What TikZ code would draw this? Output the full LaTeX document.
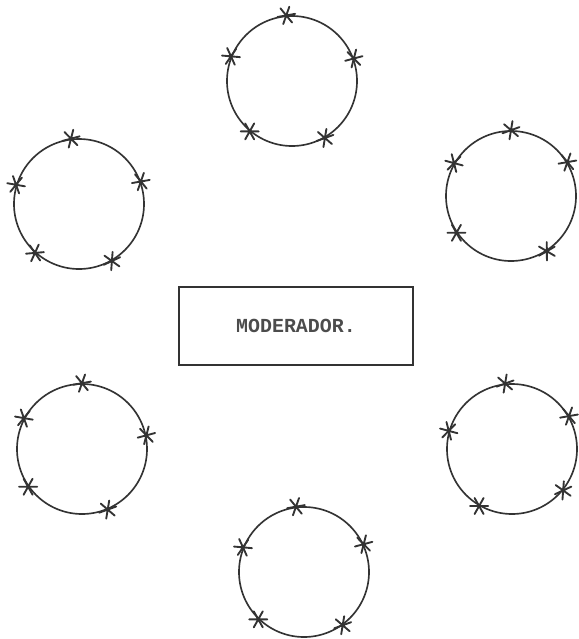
\documentclass[tikz,border=0pt]{standalone}
\usepackage{fontspec}
\newfontfamily\typewriter{Liberation Mono}
\usetikzlibrary{positioning}
\tikzset{
  mesa/.style={
    draw=black!80, circle, line width=1.4pt,
    minimum size=3.9cm, inner sep=0pt
  },
  moderador/.style={
    draw=black!80, rectangle, line width=1.5pt,
    minimum width=7.02cm, minimum height=2.34cm,
    font=\typewriter\bfseries\fontsize{17}{20}\selectfont, text=black!70
  },
  seat/.pic={
    \draw[black!80, line width=1.6pt, line cap=round]
      (-9,0) -- (9,0) (-4.5,-8) -- (4.5,8) (-4.5,8) -- (4.5,-8);
  }
}
\begin{document}
\begin{tikzpicture}[x=0.03cm, y=-0.03cm]
    \useasboundingbox (0,0) rectangle (578,639);
    \node[moderador] (mod) at (296,326) {MODERADOR.};
    % mesas
    \node[mesa] (m1) at (292,81) {};
    \node[mesa] (m2) at (79,204) {};
    \node[mesa] (m3) at (511,196) {};
    \node[mesa] (m4) at (82,449) {};
    \node[mesa] (m5) at (512,449) {};
    \node[mesa] (m6) at (304,572) {};
    % participantes
    \foreach \a/\r in {95/10, 158/-5, 20/15, 230/0, 300/20}
      \pic[rotate=\r] at (m1.\a) {seat};
    \foreach \a/\r in {97/15, 163/-10, 20/10, 228/5, 300/25}
      \pic[rotate=\r] at (m2.\a) {seat};
    \foreach \a/\r in {90/20, 150/-15, 31/10, 214/0, 303/30}
      \pic[rotate=\r] at (m3.\a) {seat};
    \foreach \a/\r in {90/10, 152/-10, 12/15, 215/0, 293/20}
      \pic[rotate=\r] at (m4.\a) {seat};
    \foreach \a/\r in {96/20, 164/-15, 30/10, 240/0, 321/25}
      \pic[rotate=\r] at (m5.\a) {seat};
    \foreach \a/\r in {97/10, 158/-5, 25/15, 226/0, 306/20}
      \pic[rotate=\r] at (m6.\a) {seat};
\end{tikzpicture}
\end{document}
